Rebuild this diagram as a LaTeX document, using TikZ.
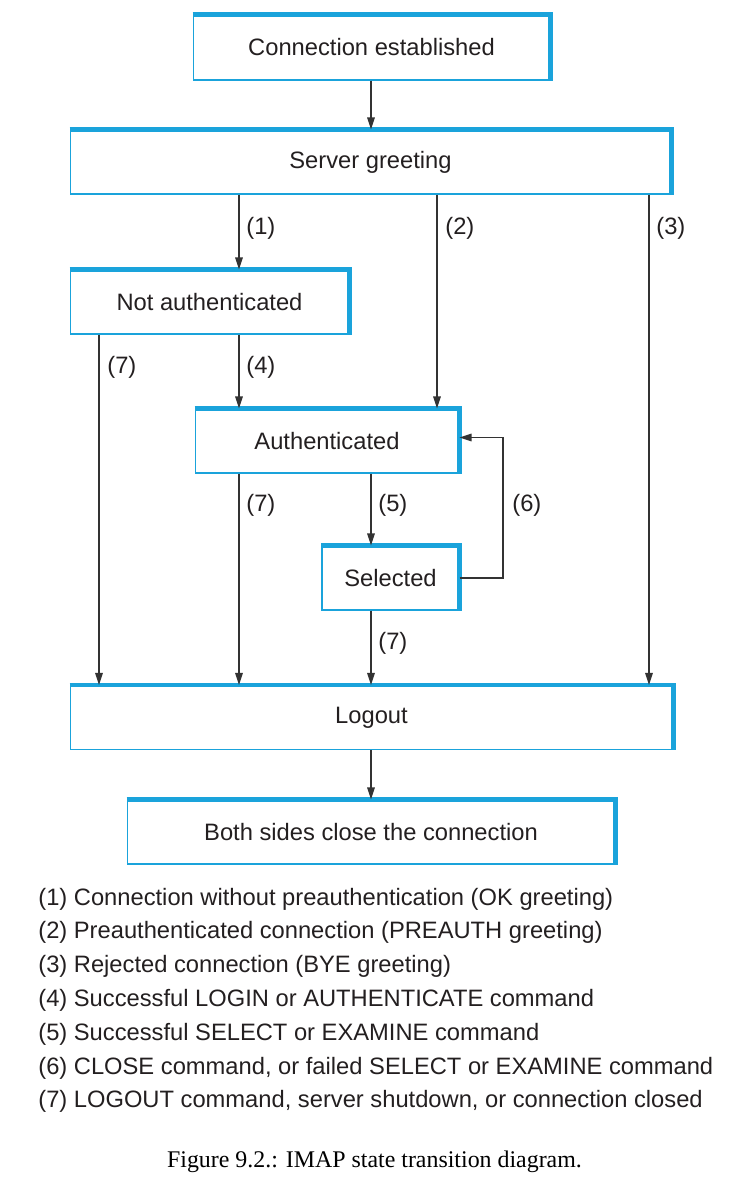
\documentclass[tikz,border=0pt]{standalone}
\usepackage{fontspec}
\setmainfont{Liberation Sans}
\newfontfamily\capfont{Liberation Serif}
\usetikzlibrary{arrows.meta,positioning}
\definecolor{imapblue}{HTML}{1AA3DB}
\definecolor{linegray}{HTML}{333333}
\definecolor{textblack}{HTML}{231F20}
\newcommand{\diagfont}{\fontsize{13.5}{16}\selectfont}

\tikzset{
  state/.style={draw=imapblue, line width=0.6pt, inner sep=0pt, minimum height=1.28cm,
    text=textblack, font=\diagfont,
    append after command={\pgfextra{\draw[imapblue, line width=2.4pt]
      (\tikzlastnode.north west) -- (\tikzlastnode.north east) -- (\tikzlastnode.south east);}}},
  trans/.style={draw=linegray, line width=0.8pt, -{Triangle[length=2.4mm,width=1.5mm]}},
  tlabel/.style={anchor=west, inner sep=0pt, text=textblack, font=\diagfont},
  legend/.style={anchor=base west, inner sep=0pt, text=textblack, font=\diagfont}
}

\begin{document}
\begin{tikzpicture}[x=0.02cm, y=-0.02cm]
    \useasboundingbox (0,0) rectangle (749,1190);

    % States
    \node[state, minimum width=7.14cm, minimum height=1.3cm] (conn) at (371.5,47.5) {Connection established};
    \node[state, minimum width=12.02cm] (greet) at (370.5,162) {Server greeting};
    \node[state, minimum width=5.58cm] (notauth) at (209.5,302) {Not authenticated};
    \node[state, minimum width=5.28cm] (auth) at (327,441) {Authenticated};
    \node[state, minimum width=2.74cm] (sel) at (390.5,578) {Selected};
    \node[state, minimum width=12.06cm] (logout) at (371.5,717.5) {Logout};
    \node[state, minimum width=9.76cm] (close) at (371,832) {Both sides close the connection};

    % Columns of the transitions
    \coordinate (xa) at (99,0);
    \coordinate (xb) at (239,0);
    \coordinate (xc) at (371,0);
    \coordinate (xd) at (437,0);
    \coordinate (xe) at (649,0);
    \coordinate (xf) at (503,0);

    % Transitions
    \draw[trans] (conn.south -| xc) -- (greet.north -| xc);
    \draw[trans] (greet.south -| xb) -- (notauth.north -| xb);
    \draw[trans] (greet.south -| xd) -- (auth.north -| xd);
    \draw[trans] (greet.south -| xe) -- (logout.north -| xe);
    \draw[trans] (notauth.south -| xa) -- (logout.north -| xa);
    \draw[trans] (notauth.south -| xb) -- (auth.north -| xb);
    \draw[trans] (auth.south -| xb) -- (logout.north -| xb);
    \draw[trans] (auth.south -| xc) -- (sel.north -| xc);
    \draw[trans] (sel.east) -- (sel.east -| xf) -- ([yshift=2pt]auth.east -| xf) -- ([yshift=2pt]auth.east);
    \draw[trans] (sel.south -| xc) -- (logout.north -| xc);
    \draw[trans] (logout.south -| xc) -- (close.north -| xc);

    % Transition labels
    \node[tlabel] (l1) at (246,228) {(1)};
    \node[tlabel] (l2) at (445,228) {(2)};
    \node[tlabel] (l3) at (656,228) {(3)};
    \node[tlabel] (l7a) at (107,367) {(7)};
    \node[tlabel] (l4) at (246,367) {(4)};
    \node[tlabel] (l7b) at (246,505) {(7)};
    \node[tlabel] (l5) at (378,505) {(5)};
    \node[tlabel] (l6) at (512,505) {(6)};
    \node[tlabel] (l7c) at (378,643) {(7)};

    % Legend
    \foreach \txt [count=\i] in {{(1) Connection without preauthentication (OK greeting)},
        {(2) Preauthenticated connection (PREAUTH greeting)},
        {(3) Rejected connection (BYE greeting)},
        {(4) Successful LOGIN or AUTHENTICATE command},
        {(5) Successful SELECT or EXAMINE command},
        {(6) CLOSE command, or failed SELECT or EXAMINE command},
        {(7) LOGOUT command, server shutdown, or connection closed}} {
        \node[legend] (leg\i) at (38,{905+(\i-1)*33.8}) {\txt};
    }

    % Caption
    \node[anchor=base, inner sep=0pt, font=\capfont\fontsize{13.6}{16}\selectfont] (caption) at (374.5,1167) {Figure 9.2.: IMAP state transition diagram.};
\end{tikzpicture}
\end{document}
